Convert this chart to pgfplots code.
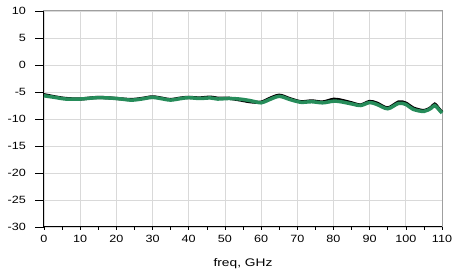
\documentclass[border=0pt]{standalone}
\usepackage{fontspec}
\setmainfont{Liberation Sans}
\usepackage{pgfplots}
\pgfplotsset{compat=1.18}
\definecolor{cgreen}{RGB}{38,140,90}
\begin{document}
\begin{tikzpicture}
\begin{axis}[
  scale only axis,
  width=398pt, height=216pt,
  xmin=0, xmax=110, ymin=-30, ymax=10,
  xtick={0,10,...,110},
  ytick={-30,-25,...,10},
  yticklabels={-30,-25,-20,-15,-10,-5,0,5,10},
  minor x tick num=1,
  tick align=outside,
  major tick length=3pt, minor tick length=3pt,
  tick style={black, line width=0.6pt},
  xtick pos=bottom, ytick pos=left,
  grid=major,
  major grid style={gray!30, line width=0.8pt},
  axis line style={gray!75, line width=1pt},
  tick label style={font=\fontsize{10.5}{12}\selectfont, xscale=1.2},
  /pgf/number format/assume math mode=true,
  xlabel={freq, GHz},
  xlabel style={font=\fontsize{11}{13}\selectfont, xscale=1.25, yshift=-9pt},
  xticklabel style={yshift=-2pt},
  yticklabel style={xshift=-9pt},
  clip=false,
]
\draw[black, line width=1pt] (rel axis cs:0,1) -- (rel axis cs:0,0) -- (rel axis cs:1,0);
\pgfplotsinvokeforeach{-30,-25,-20,-15,-10,-5,0,5,10}{\draw[black, line width=0.6pt] (axis cs:0,#1) -- ++(-9pt,0pt);}
\addplot[black, line width=3.2pt, smooth] coordinates {
(0,-5.5) (3,-5.9) (6,-6.2) (10,-6.3) (15,-6.0) (20,-6.2) (24,-6.4) (27,-6.2)
(30,-5.9) (33,-6.2) (35,-6.4) (38,-6.1) (40,-6.0) (43,-6.1) (46,-5.95) (48,-6.15)
(51,-6.15) (54,-6.45) (57,-6.8) (60,-6.9) (62,-6.3) (65,-5.6) (68,-6.25) (71,-6.8)
(74,-6.65) (77,-6.85) (80,-6.35) (82,-6.5) (85,-7.0) (87.5,-7.4) (90,-6.75) (92,-7.05)
(95,-7.95) (98,-6.85) (100,-7.05) (102,-7.95) (105,-8.45) (107,-7.85) (108,-7.25) (109.2,-8.15) (110,-8.75)
};
\addplot[cgreen, line width=3.5pt, smooth] coordinates {
(0,-5.7) (3,-6.0) (6,-6.3) (10,-6.3) (15,-6.05) (20,-6.2) (24,-6.5) (27,-6.3)
(30,-6.0) (33,-6.3) (35,-6.5) (38,-6.2) (40,-6.05) (43,-6.2) (46,-6.1) (48,-6.3)
(51,-6.2) (54,-6.3) (57,-6.6) (60,-7.0) (62,-6.5) (65,-5.8) (68,-6.4) (71,-6.9)
(74,-6.8) (77,-7.0) (80,-6.7) (82,-6.8) (85,-7.2) (87.5,-7.5) (90,-6.95) (92,-7.3)
(95,-8.1) (98,-7.1) (100,-7.3) (102,-8.2) (105,-8.6) (107,-8.0) (108,-7.5) (109.2,-8.3) (110,-8.9)
};
\end{axis}
\path ([xshift=-44pt,yshift=-41pt]current axis.south west) rectangle ([xshift=22pt,yshift=11pt]current axis.north east);
\end{tikzpicture}
\end{document}
